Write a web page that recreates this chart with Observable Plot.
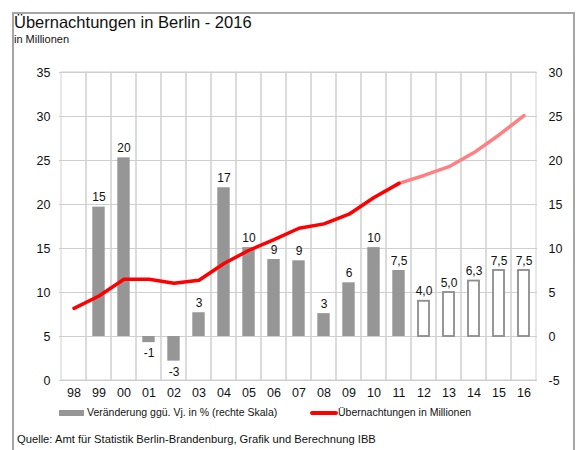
<!DOCTYPE html>
<html><head><meta charset="utf-8">
<script src="https://cdn.jsdelivr.net/npm/d3@7"></script>
<script src="https://cdn.jsdelivr.net/npm/@observablehq/plot@0.6"></script>
<style>
body{margin:0;background:#fff;font-family:"Liberation Sans",Arial,sans-serif;}
#wrap{position:relative;width:580px;height:450px;overflow:hidden;}
#frame{position:absolute;left:12px;top:12px;width:559px;height:460px;border:2px solid #a6a6a6;}
.t{position:absolute;white-space:nowrap;color:#111;line-height:1;}
</style></head>
<body>
<div id="wrap">
  <div id="frame"></div>
  <div class="t" style="left:14px;top:14px;font-size:16.5px;">Übernachtungen in Berlin - 2016</div>
  <div class="t" style="left:14px;top:34px;font-size:11px;">in Millionen</div>
  <div id="chart" style="position:absolute;left:0;top:50px;"></div>
  <div class="t" style="left:59px;top:410px;width:25px;height:6px;background:#969696;"></div>
  <div class="t" style="left:87px;top:407px;font-size:10.5px;">Veränderung ggü. Vj. in % (rechte Skala)</div>
  <div class="t" style="left:310px;top:411px;width:28px;height:4px;background:#ff0000;border-radius:2px;"></div>
  <div class="t" style="left:338px;top:407px;font-size:10.5px;">Übernachtungen in Millionen</div>
  <div class="t" style="left:17px;top:434px;font-size:11.2px;">Quelle: Amt für Statistik Berlin-Brandenburg, Grafik und Berechnung IBB</div>
</div>
<script>
// Data
const years = ["98","99","00","01","02","03","04","05","06","07","08","09","10","11","12","13","14","15","16"];
const overnight = [8.2, 9.6, 11.5, 11.5, 11.05, 11.4, 13.3, 14.8, 16.0, 17.3, 17.8, 18.9, 20.8, 22.4, 23.3, 24.3, 25.9, 27.9, 30.1];
const change = [null, 14.7, 20.3, -0.7, -2.8, 2.7, 16.9, 10.1, 8.75, 8.6, 2.6, 6.1, 10.1, 7.5, 4.0, 5.0, 6.3, 7.5, 7.5];
const changeLabels = ["", "15", "20", "-1", "-3", "3", "17", "10", "9", "9", "3", "6", "10", "7,5", "4,0", "5,0", "6,3", "7,5", "7,5"];
const leftTicks = [0, 5, 10, 15, 20, 25, 30, 35];
const lastActual = "11";
const rightZero = 5; // right-axis 0 sits at left-axis 5

const iLast = years.indexOf(lastActual);
const rows = years.map((y, i) => ({
  year: y, overnight: overnight[i], change: change[i], label: changeLabels[i],
  forecast: i > iLast, actualLine: i <= iLast, forecastLine: i >= iLast
}));
const barRows = rows.filter(d => d.change != null);

const chart = Plot.plot({
  width: 580, height: 350,
  marginLeft: 59, marginRight: 43, marginTop: 22, marginBottom: 20,
  style: {fontFamily: "Liberation Sans, Arial, sans-serif", fontSize: "12px", color: "#111", background: "transparent"},
  x: {domain: years, padding: 0, axis: null},
  y: {domain: [0, 35], axis: null},
  marks: [
    Plot.gridY(leftTicks, {stroke: "#cfcfcf", strokeOpacity: 1, strokeWidth: 1}),
    Plot.barY(years, {x: d => d, y1: 0, y2: 35, fill: "none", stroke: "#cfcfcf", strokeWidth: 1}),
    Plot.barY(barRows.filter(d => !d.forecast), {x: "year", y1: rightZero, y2: d => d.change + rightZero, fill: "#969696", insetLeft: 6.3, insetRight: 6.3}),
    Plot.barY(barRows.filter(d => d.forecast), {x: "year", y1: rightZero, y2: d => d.change + rightZero, fill: "white", stroke: "#8c8c8c", strokeWidth: 1.8, insetLeft: 7, insetRight: 7}),
    Plot.text(barRows.filter(d => d.change >= 0), {x: "year", y: d => d.change + rightZero, text: "label", lineAnchor: "bottom", dy: -6, fill: "#111", fontSize: 12}),
    Plot.text(barRows.filter(d => d.change < 0), {x: "year", y: d => d.change + rightZero, text: "label", lineAnchor: "top", dy: 6, fill: "#111", fontSize: 12}),
    Plot.line(rows.filter(d => d.forecastLine), {x: "year", y: "overnight", stroke: "#ff8080", strokeWidth: 3.5, strokeLinejoin: "round"}),
    Plot.line(rows.filter(d => d.actualLine), {x: "year", y: "overnight", stroke: "#ff0000", strokeWidth: 3.5, strokeLinejoin: "round", strokeLinecap: "round"}),
    Plot.axisY(leftTicks, {anchor: "left", label: null, tickSize: 0, tickPadding: 9, fill: "#111", fontSize: 12.5}),
    Plot.axisY(leftTicks, {anchor: "right", label: null, tickSize: 0, tickPadding: 11, tickFormat: d => d - rightZero, fill: "#111", fontSize: 12.5}),
    Plot.axisX(years, {anchor: "bottom", label: null, tickSize: 0, tickPadding: 8, fill: "#111", fontSize: 12.5})
  ]
});
document.getElementById("chart").appendChild(chart);
</script>
</body></html>
